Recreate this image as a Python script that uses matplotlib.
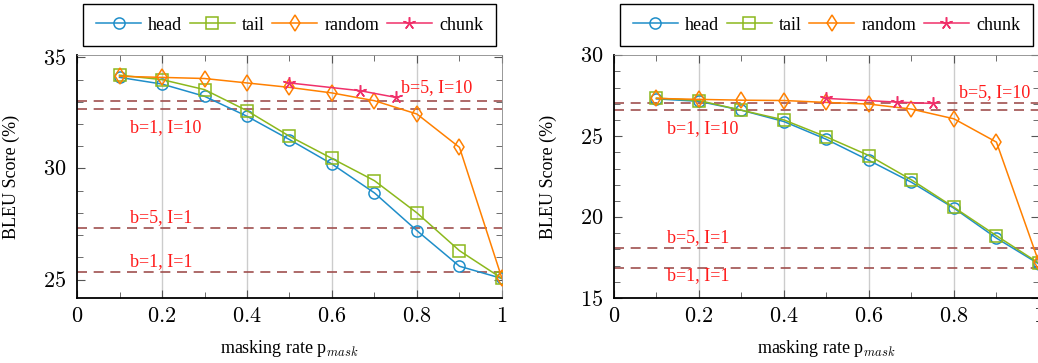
import matplotlib
matplotlib.use('Agg')
from matplotlib import pyplot as plt  # noqa
from matplotlib.ticker import MultipleLocator, FuncFormatter

plt.rcParams['font.family'] = ['Liberation Serif', 'DejaVu Serif']
plt.rcParams['mathtext.fontset'] = 'cm'
plt.rcParams['font.size'] = 13

rates = [0.1, 0.2, 0.3, 0.4, 0.5, 0.6, 0.7, 0.8, 0.9, 1.0]
chunk_rates = [0.5, 2 / 3, 0.75]

# left panel
head_l = [34.1, 33.8, 33.25, 32.35, 31.3, 30.2, 28.9, 27.2, 25.6, 25.05]
tail_l = [34.2, 34.0, 33.55, 32.6, 31.45, 30.45, 29.45, 28.0, 26.3, 25.05]
random_l = [34.15, 34.1, 34.05, 33.85, 33.65, 33.4, 33.05, 32.45, 30.95, 25.05]
chunk_l = [33.85, 33.5, 33.2]
base_l = [33.05, 32.7, 27.3, 25.35]   # b5I10, b1I10, b5I1, b1I1

# right panel
head_r = [27.3, 27.15, 26.6, 25.9, 24.8, 23.5, 22.15, 20.55, 18.7, 17.1]
tail_r = [27.35, 27.2, 26.6, 26.0, 24.95, 23.8, 22.3, 20.6, 18.85, 17.15]
random_r = [27.33, 27.27, 27.22, 27.2, 27.08, 26.98, 26.67, 26.07, 24.63, 17.2]
chunk_r = [27.33, 27.1, 27.02]
base_r = [27.02, 26.6, 18.07, 16.83]

base_names = ['b=5, I=10', 'b=1, I=10', 'b=5, I=1', 'b=1, I=1']

C_HEAD = '#1f8ec9'
C_TAIL = '#8cb81c'
C_RAND = '#ff8000'
C_CHUNK = '#f0306a'
C_BASE = '#a0504f'
C_TXT = '#ff1a1a'


def num_fmt(v, pos):
    if abs(v - round(v)) < 1e-9:
        return '$%d$' % round(v)
    return '$%g$' % v


def draw_panel(ax, head, tail, rnd, chunk, base, ylim, ymaj, label_pos):
    for x in [0.2, 0.4, 0.6, 0.8]:
        ax.axvline(x, color='#cccccc', lw=1.0, zorder=0)
    for y in base:
        ax.axhline(y, color=C_BASE, lw=1.2, ls=(0, (6, 4)), zorder=1)
    ax.plot(rates, head, color=C_HEAD, marker='o', ms=8, mfc='none',
            mew=1.1, lw=1.1, label='head', zorder=3)
    ax.plot(rates, tail, color=C_TAIL, marker='s', ms=8, mfc='none',
            mew=1.1, lw=1.1, label='tail', zorder=3)
    ax.plot(rates, rnd, color=C_RAND, marker='d', ms=8, mfc='none',
            mew=1.1, lw=1.1, label='random', zorder=3)
    ax.plot(chunk_rates, chunk, color=C_CHUNK, marker=(5, 2, 0), ms=9,
            mew=1.1, lw=1.1, label='chunk', zorder=3)
    for name, (x, y) in zip(base_names, label_pos):
        ax.text(x, y, name, color=C_TXT, ha='left', va='center', fontsize=13)

    ax.set_xlim(0, 1)
    ax.set_ylim(*ylim)
    ax.xaxis.set_major_locator(MultipleLocator(0.2))
    ax.xaxis.set_minor_locator(MultipleLocator(0.1))
    ax.yaxis.set_major_locator(MultipleLocator(ymaj))
    ax.yaxis.set_minor_locator(MultipleLocator(1))
    ax.xaxis.set_major_formatter(FuncFormatter(num_fmt))
    ax.yaxis.set_major_formatter(FuncFormatter(num_fmt))
    ax.tick_params(which='both', direction='in', top=True, right=True,
                   color='#555555', labelsize=16)
    ax.tick_params(which='major', length=6)
    ax.tick_params(which='minor', length=4)
    ax.tick_params(axis='x', pad=7)
    ax.tick_params(axis='y', pad=8)
    for side in ['left', 'bottom']:
        ax.spines[side].set_linewidth(1.3)
    for side in ['right', 'top']:
        ax.spines[side].set_linewidth(0.6)
        ax.spines[side].set_color('#888888')

    ax.set_xlabel('masking rate p$_{mask}$', fontsize=13)
    ax.xaxis.set_label_coords(0.5, -0.165)
    ax.set_ylabel('BLEU Score (%)', fontsize=13)
    ax.yaxis.set_label_coords(-0.135, 0.5)

    leg = ax.legend(loc='upper center', bbox_to_anchor=(0.5, 1.21), ncol=4,
                    fancybox=False, edgecolor='black', framealpha=1,
                    handlelength=2.5, handletextpad=0.4, columnspacing=0.4,
                    borderpad=0.7, borderaxespad=0, fontsize=13)
    leg.get_frame().set_linewidth(1.0)


fig = plt.figure(figsize=(10.38, 3.63), dpi=100)
ax1 = fig.add_axes([0.0742, 0.179, 0.4094, 0.669])
ax2 = fig.add_axes([0.5915, 0.179, 0.4094, 0.669])

draw_panel(ax1, head_l, tail_l, random_l, chunk_l, base_l, (24.17, 35.1), 5,
           [(0.762, 33.65), (0.125, 31.84), (0.125, 27.79), (0.125, 25.79)])
draw_panel(ax2, head_r, tail_r, random_r, chunk_r, base_r, (15, 30), 5,
           [(0.812, 27.67), (0.124, 25.49), (0.124, 18.75), (0.124, 16.38)])

fig.savefig('out.png', dpi=100)
